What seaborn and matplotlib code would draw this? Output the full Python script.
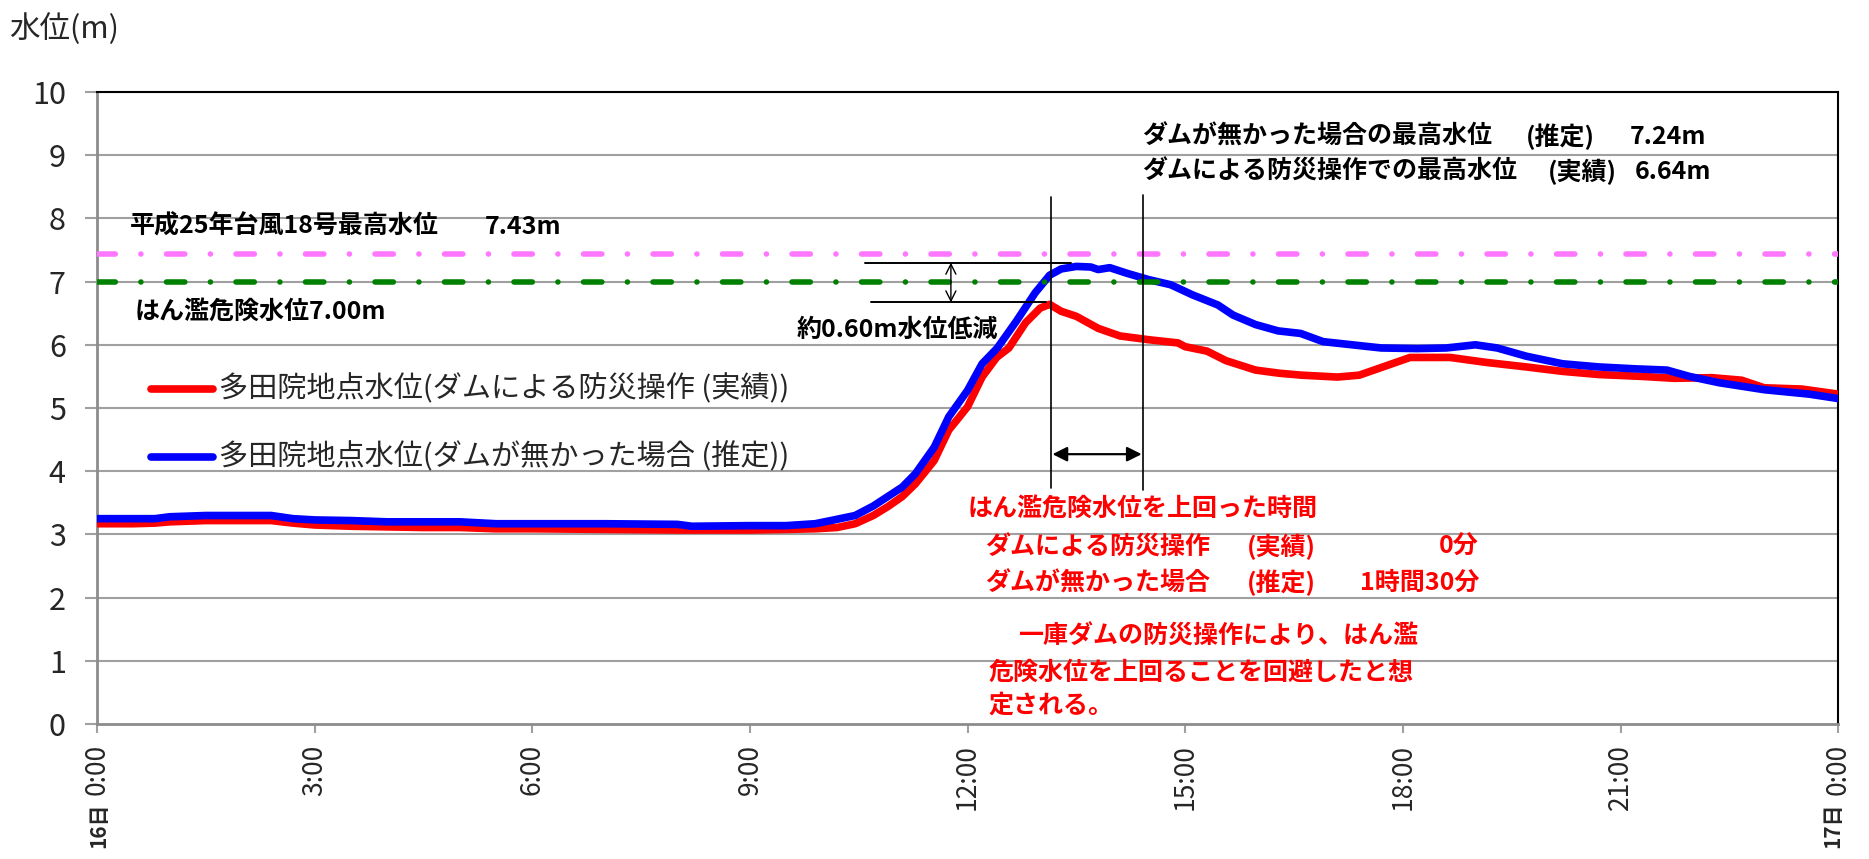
import matplotlib
matplotlib.use("Agg")
import matplotlib.pyplot as plt
import matplotlib.transforms as mtransforms
import seaborn as sns
import pandas as pd

# ---------------- data ----------------
red_hours = [0.0, 0.5, 0.8, 1.0, 1.5, 2.0, 2.4, 2.7, 3.0, 3.5, 4.0, 4.5, 5.0, 5.5, 6.0, 7.0,
             8.0, 8.5, 9.0, 9.5, 9.9, 10.2, 10.45, 10.7, 10.9, 11.1, 11.28, 11.54, 11.74,
             12.0, 12.2, 12.4, 12.57, 12.8, 13.0, 13.13, 13.29, 13.5, 13.8, 14.1, 14.5,
             14.9, 15.0, 15.3, 15.56, 15.97, 16.3, 16.6, 17.1, 17.4, 17.8, 18.1, 18.65,
             19.16, 19.7, 20.2, 20.7, 21.3, 21.74, 22.26, 22.67, 22.98, 23.5, 24.0]
red_level = [3.17, 3.17, 3.18, 3.20, 3.22, 3.22, 3.22, 3.18, 3.15, 3.13, 3.12, 3.11, 3.11, 3.09,
             3.09, 3.08, 3.07, 3.07, 3.07, 3.08, 3.09, 3.11, 3.17, 3.30, 3.44, 3.60, 3.80,
             4.17, 4.65, 5.02, 5.49, 5.80, 5.95, 6.35, 6.58, 6.64, 6.53, 6.45, 6.26, 6.14,
             6.08, 6.03, 5.97, 5.90, 5.75, 5.60, 5.55, 5.52, 5.49, 5.52, 5.68, 5.80, 5.80,
             5.72, 5.65, 5.58, 5.53, 5.50, 5.47, 5.48, 5.44, 5.32, 5.30, 5.22]

blue_hours = [0.0, 0.8, 1.0, 1.5, 2.0, 2.4, 2.7, 3.0, 3.5, 4.0, 5.0, 5.5, 6.0, 7.0, 8.0, 8.2,
              9.0, 9.5, 9.9, 10.2, 10.45, 10.7, 10.9, 11.1, 11.28, 11.54, 11.74, 12.0, 12.2,
              12.41, 12.67, 12.93, 13.13, 13.29, 13.5, 13.7, 13.8, 13.96, 14.2, 14.5, 14.8,
              15.1, 15.45, 15.66, 15.97, 16.28, 16.59, 16.9, 17.3, 17.7, 18.2, 18.6, 19.0,
              19.3, 19.7, 20.2, 20.7, 21.2, 21.64, 21.95, 22.36, 22.98, 23.6, 24.0]
blue_level = [3.25, 3.25, 3.28, 3.30, 3.30, 3.30, 3.25, 3.23, 3.22, 3.20, 3.20, 3.17, 3.17,
              3.17, 3.16, 3.13, 3.14, 3.14, 3.17, 3.24, 3.30, 3.45, 3.60, 3.75, 3.96, 4.38,
              4.86, 5.28, 5.70, 5.95, 6.37, 6.82, 7.10, 7.20, 7.24, 7.23, 7.19, 7.22, 7.13,
              7.03, 6.95, 6.79, 6.63, 6.47, 6.32, 6.22, 6.18, 6.05, 6.00, 5.95, 5.94, 5.95,
              6.00, 5.95, 5.82, 5.70, 5.65, 5.62, 5.60, 5.50, 5.40, 5.29, 5.22, 5.15]

red_name = "多田院地点水位(ダムによる防災操作 (実績))"
blue_name = "多田院地点水位(ダムが無かった場合 (推定))"

record_level = 7.43
danger_level = 7.00
peak_no_dam = 7.24
peak_with_dam = 6.64

x_ticks = [0, 3, 6, 9, 12, 15, 18, 21, 24]
x_tick_labels = ["0:00", "3:00", "6:00", "9:00", "12:00", "15:00", "18:00", "21:00", "0:00"]
y_ticks = list(range(0, 11))

# ---------------- style ----------------
sns.set_style("white")
plt.rcParams['font.family'] = ['Noto Sans CJK JP', 'DejaVu Sans']

fig = plt.figure(figsize=(18.69, 8.59), dpi=100)
ax = fig.add_axes([0.0519, 0.157, 0.9316, 0.736])

df_red = pd.DataFrame({"hour": red_hours, "level": red_level})
df_blue = pd.DataFrame({"hour": blue_hours, "level": blue_level})

grid_c = "#A0A0A0"
for v in y_ticks[1:]:
    ax.axhline(v, color=grid_c, lw=1.5, zorder=1)

sns.lineplot(data=df_red, x="hour", y="level", ax=ax, color="#FF0000", lw=5.5,
             solid_capstyle="round", solid_joinstyle="round", zorder=3)
sns.lineplot(data=df_blue, x="hour", y="level", ax=ax, color="#0000FF", lw=5.5,
             solid_capstyle="round", solid_joinstyle="round", zorder=4)

dash = (0, (3.3, 4.6, 0.01, 4.6))
ax.axhline(record_level, color="#FF77FF", lw=4, linestyle=dash, dash_capstyle="round", zorder=5)
ax.axhline(danger_level, color="#008000", lw=4, linestyle=dash, dash_capstyle="round", zorder=5)

ax.set_xlim(0, 24)
ax.set_ylim(0, 10)
ax.set_xticks(x_ticks)
ax.set_xticklabels(x_tick_labels, rotation=90, fontsize=19)
ax.set_yticks(y_ticks)
ax.set_yticklabels([str(v) for v in y_ticks], fontsize=22)
ax.set_xlabel("")
ax.set_ylabel("")
ax.tick_params(axis="x", direction="out", length=6.5, width=1.5, color=grid_c, pad=8, bottom=True)
ax.tick_params(axis="y", direction="out", length=8.5, width=1.5, color=grid_c, pad=14, left=True)

for s in ["left", "bottom"]:
    ax.spines[s].set_color("#8C8C8C")
    ax.spines[s].set_linewidth(2)
for s in ["top", "right"]:
    ax.spines[s].set_color("black")
    ax.spines[s].set_linewidth(1.5)

# legend-like samples
ax.plot([0.75, 1.6], [5.30, 5.30], color="#FF0000", lw=5.5, solid_capstyle="round", zorder=6)
ax.plot([0.75, 1.6], [4.23, 4.23], color="#0000FF", lw=5.5, solid_capstyle="round", zorder=6)
ax.text(1.68, 5.30, red_name, fontsize=21, va="center", ha="left")
ax.text(1.68, 4.23, blue_name, fontsize=21, va="center", ha="left")

# black annotations
bold = dict(fontsize=18, fontweight="bold", va="center", ha="left", color="black")
ax.text(0.46, 7.87, "平成25年台風18号最高水位", **bold)
ax.text(5.34, 7.87, f"{record_level:.2f}m", **bold)
ax.text(0.52, 6.52, f"はん濫危険水位{danger_level:.2f}m", **bold)
ax.text(14.4, 9.29, "ダムが無かった場合の最高水位", **bold)
ax.text(19.7, 9.29, "(推定)", **bold)
ax.text(21.13, 9.29, f"{peak_no_dam:.2f}m", **bold)
ax.text(14.4, 8.74, "ダムによる防災操作での最高水位", **bold)
ax.text(20.0, 8.74, "(実績)", **bold)
ax.text(21.2, 8.74, f"{peak_with_dam:.2f}m", **bold)
ax.text(9.65, 6.23, f"約{peak_no_dam - peak_with_dam:.2f}m水位低減", **bold)

# helper lines and arrows
ax.plot([10.59, 13.43], [7.30, 7.30], color="black", lw=1.4, zorder=6)
ax.plot([10.67, 13.08], [6.67, 6.67], color="black", lw=1.4, zorder=6)
ax.annotate("", xy=(11.77, 7.30), xytext=(11.77, 6.67),
            arrowprops=dict(arrowstyle="<->", color="black", lw=1.0, mutation_scale=18,
                            shrinkA=0, shrinkB=0), zorder=6)
ax.plot([13.15, 13.15], [3.73, 8.34], color="black", lw=1.2, zorder=6)
ax.plot([14.42, 14.42], [3.70, 8.37], color="black", lw=1.2, zorder=6)
ax.annotate("", xy=(14.4, 4.27), xytext=(13.17, 4.27),
            arrowprops=dict(arrowstyle="<|-|>", color="black", lw=1.6, mutation_scale=22,
                            shrinkA=0, shrinkB=0), zorder=6)

# red annotations
redb = dict(fontsize=18, fontweight="bold", va="center", color="#FF0000")
ax.text(12.0, 3.40, "はん濫危険水位を上回った時間", ha="left", **redb)
ax.text(12.24, 2.80, "ダムによる防災操作", ha="left", **redb)
ax.text(15.85, 2.80, "(実績)", ha="left", **redb)
ax.text(19.05, 2.80, "0分", ha="right", **redb)
ax.text(12.24, 2.23, "ダムが無かった場合", ha="left", **redb)
ax.text(15.85, 2.23, "(推定)", ha="left", **redb)
ax.text(19.05, 2.23, "1時間30分", ha="right", **redb)
ax.text(12.7, 1.38, "一庫ダムの防災操作により、はん濫", ha="left", **redb)
ax.text(12.29, 0.82, "危険水位を上回ることを回避したと想", ha="left", **redb)
ax.text(12.29, 0.30, "定される。", ha="left", **redb)

# date labels
trans = mtransforms.blended_transform_factory(ax.transData, ax.transAxes)
ax.text(0.02, -0.124, "16日", transform=trans, rotation=90, ha="center", va="top",
        fontsize=15, fontweight="bold")
ax.text(23.93, -0.124, "17日", transform=trans, rotation=90, ha="center", va="top",
        fontsize=15, fontweight="bold")

fig.text(9 / 1869, 1 - 29 / 859, "水位(m)", fontsize=22, va="center", ha="left")

fig.savefig("out.png", dpi=100)
